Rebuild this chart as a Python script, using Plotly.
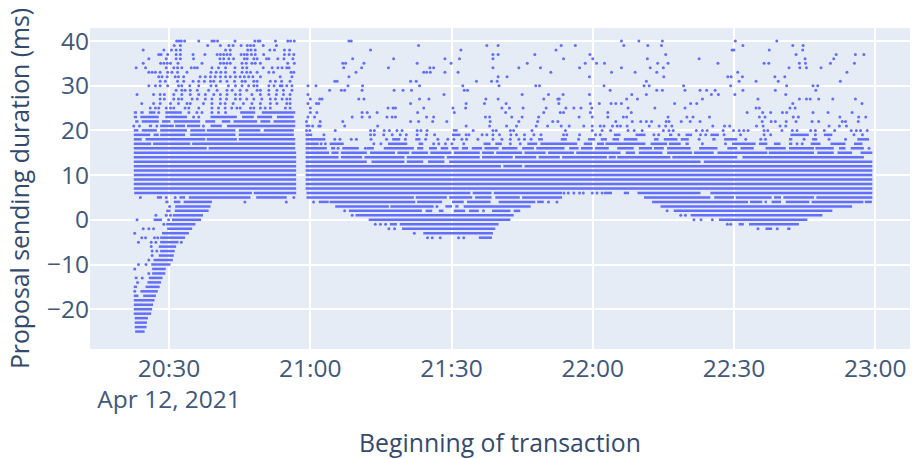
import pandas as pd
import plotly.graph_objects as go

# Minutes after 20:00 on 2021-04-12.
START = pd.Timestamp("2021-04-12 20:00:00")

# Duration (ms) -> runs of transactions so dense that they merge into a bar: (first, last) minute
LEFT_RUNS = {
    24: [(22.5,23.2),(23.9,24.6),(25.7,27.1),(29.2,32.7),(45.1,48.3),(49.7,56.8)],
    23: [(22.5,23.2),(23.9,27.8),(29.2,33.8),(38.8,44.4),(45.5,48),(48.7,51.9),(52.9,56.5)],
    22: [(22.8,23.5),(24.2,27.8),(28.5,30.3),(31,36.6),(37.7,39.8),(41.2,43),(43.7,48.7),(49.4,51.5),(52.2,56.8)],
    21: [(25.7,26.4),(28.1,31),(31.3,33.4),(33.8,36.6),(38.8,41.2),(42.3,56.8)],
    20: [(22.5,23.5),(24.2,27.4),(28.1,33.8),(34.5,37.7),(38,44.1),(44.8,49.4),(50.1,56.5)],
    19: [(22.5,26),(26.7,27.8),(28.1,33.4),(34.5,44.1),(44.8,56.5)],
    18: [(22.5,24.2),(25,37.7),(38,44.4),(44.8,56.8)],
    17: [(22.5,26.2),(26.6,34.5),(34.9,56.8)],
    16: [(22.5,38),(38.4,56.8)],
    15: [(22.5,57)], 14: [(22.5,57)], 13: [(22.5,57)], 12: [(22.5,57)], 11: [(22.5,57)],
    10: [(22.5,57)], 9: [(22.5,57)], 8: [(22.5,57)], 7: [(22.5,57)],
    6: [(22.6,47.6),(48,57)],
    5: [(27.4,28.5),(32.2,33.4),(34.2,47.3),(48.5,55)],
    4: [(29.2,29.9),(31,32.4),(33.1,39.1)],
    3: [(31.3,38.8)],
    2: [(29.4,30.3),(31.2,38.4)],
    1: [(30.8,37.2)],
    0: [(26.7,28.5),(30.6,36.8)],
    -1: [(29.4,35.6)],
    -2: [(29.6,34.9)],
    -3: [(28.5,34.2)],
    -4: [(28.1,33.4)],
    -5: [(28.1,32)],
    -6: [(27.8,31.5)],
    -7: [(28.1,31.2)],
    -8: [(27.8,31)],
    -9: [(26.7,30.8)],
    -10: [(26.2,30.3)],
    -11: [(26.4,29.3)],
    -12: [(26.4,29.2)],
    -13: [(22.7,23.3),(25.7,28.6)],
    -14: [(25.4,28.3)],
    -15: [(22.5,23.2),(25,28)],
    -16: [(23.9,27.6)],
    -17: [(22.5,23.5),(24.5,27.2)],
    -18: [(22.5,26.9)],
    -19: [(22.5,26.6)],
    -20: [(22.5,26.4)],
    -21: [(22.5,26.2)],
    -22: [(22.7,25.5)],
    -23: [(22.7,25.3)],
    -24: [(22.7,25.2)],
    -25: [(22.8,24.8)],
}

RIGHT_RUNS = {
    21: [(59,60)],
    20: [(90.3,91.3)],
    19: [(59,60.4),(90.1,91.9),(124.5,125.9),(129.1,131.2),(136.2,136.9),(139.7,141.1),(145,146.8),(162,165.9),(169.1,170.9)],
    18: [(59,63.2),(77.4,79.1),(82.3,83.4),(108.4,109.4),(113.2,114.5),(119,120.5),(121.7,123),(124.2,125.6),(126.6,129.5),
         (133,134),(135.1,138),(138.7,140.4),(145.4,146.1),(147.9,150.7),(161.7,162.4),(166.6,167.7),(176.2,178.7)],
    17: [(59,61.8),(64.1,67.1),(76.5,80.6),(83,84),(96.8,98.3),(99.3,100.7),(106.1,108.2),(108.9,116.7),(118.1,119.9),(120.9,122.4),
         (122.7,131.2),(132.3,135.8),(136.2,138.7),(139.7,140.4),(149.6,154.6),(155.3,157.1),(158.5,159.9),(161.7,162.4),(166.3,168.4),(170.5,173.7),(175.5,177.3)],
    16: [(59,63.5),(64.4,65.3),(66.8,70.3),(72,73.5),(75.6,82),(82.7,84),(85.2,86.9),(87.7,89.3),(90,91.5),(92.2,93.5),(94.3,96.5),
         (97,100),(100.7,104),(105,107.5),(108,114),(115,117),(117.5,120),(120.5,123.4),(125.2,128.7),(129.8,132.6),(133,135.1),
         (135.8,140.8),(142.6,146.5),(148.6,150.7),(151.4,154.2),(156.7,161),(161.7,167),(167.3,171.2),(172.3,173.7),(174.8,177.6)],
    15: [(59,64),(64.5,66),(66.5,72),(72.7,78),(78.5,81),(81.5,85),(85.5,90),(90.5,96),(96.5,99),(99.5,105),(105.5,110),(110.5,116),
         (116.5,125.9),(127,129),(129.8,134.8),(135.8,141.1),(141.5,145.7),(146.5,157.1),(157.4,167),(167.7,171.2),(172,175.1),(176.9,179.4)],
    14: [(59,66),(66.5,71),(71.5,80),(80.5,88.5),(89,96),(96.5,103),(103.5,108),(108.5,113),(113.5,123),(123.4,124.9),(125.2,136.5),(136.9,150.7),(151.8,177.6)],
    13: [(59,72),(73,80),(80.5,84),(85,88.5),(89.5,142.9),(143.6,179.4)],
    12: [(59,100.5),(101,105),(105.5,179.4)],
    11: [(59,179.4)], 10: [(59,179.4)], 9: [(59,179.4)], 8: [(59,179.4)], 7: [(59,179.4)],
    6: [(59.2,94),(94.5,98.5),(99,113.5),(122.4,124.1),(126.6,127.7),(129.5,142.9),(145,179.4)],
    5: [(59.2,82),(82.4,89),(89.5,94.4),(95,98.5),(99.3,104.5),(105,113.5),(130.9,145),(145.8,150),(150.4,158),(158.5,160),(160.5,167),(167.5,179.4)],
    4: [(61.8,63.9),(64.1,82.3),(82.7,88),(90.1,92.6),(93.3,98.3),(100,107.8),(108.2,109.6),(132.6,153),(153.4,156),(156.5,157),(158,160),(161,166),(166.5,177.5),(177.8,179.3)],
    3: [(65.3,76.7),(77,86.2),(88.7,90.1),(90.8,91.5),(92.6,106.8),(134.4,175.1)],
    2: [(68.2,83.7),(84.5,85.9),(87.3,88.3),(90.5,92.9),(93.7,95.8),(98.6,102.5),(103.2,104.6),(137.2,170.9)],
    1: [(69.6,103.2),(140.8,168.8)],
    0: [(72.4,102.5),(146.8,165.6)],
    -1: [(76.9,78.4),(79,100),(151,152.1),(153.2,163.8)],
    -2: [(79.5,99.3),(156.7,158.1),(161.3,162)],
    -3: [(84,98.8)],
    -4: [(95.8,98.6)],
}

# Duration (ms) -> individually visible transactions (minute)
LEFT_POINTS = {
    40: [31.6,32.1,32.6,33.3,36.3,39.1,39.6,40.3,44,48.2,48.9,49.3,52.6,55.2,55.8,56.6],
    39: [31.1,32.4,38.2,40.9,42.7,43.6,45.3,46.6,47.3,48,50,52.8],
    38: [24.5,28.9,30.5,31.5,32.4,42,43,46.7,47.4,48.3,51.4,52.4,54.5,55.6],
    37: [27.8,28.3,29.7,31.5,32.4,35.1,37.6,40.2,40.9,41.6,42.3,43,45.3,46,46.6,47.5,48.3,50.1,54.5,55.5,56.5],
    36: [25.7,29.4,31.5,32.4,35.2,40.8,41.6,42.7,43.7,46,46.6,48,48.7,50.7,51.2,53.1,54.4,56.3],
    35: [24.5,28.2,28.9,29.6,30.3,31.9,37,40.9,41.6,42.3,43,45.5,46.4,47.6,48.3,49.4,55.2,56.6],
    34: [23,25,29.4,31,31.8,32.7,34.7,35.4,36,39.1,40.5,42,44,45.6,46.5,50,51.9,53.1,54,55,55.5],
    33: [25.7,26.4,27.1,28.1,29.7,30.6,31.8,33.8,38.9,40,41,42,43.9,45.5,46.5,47.3,48.7,51.2,52.2,55.9,56.5],
    32: [27.8,28.5,29.6,31.3,32,33.1,36.6,37.7,38.8,39.8,40.9,42,43,44.1,45.1,46,46.9,47.8,49.4,53.6,56.1],
    31: [28.1,29.2,31.8,33.1,35.1,36.3,37.5,38.8,39.5,40.9,42.3,43.9,45.5,46.2,48,48.7,51.5,52.6,53.9,55.7],
    30: [25.7,27.1,28.1,29.7,32,32.7,34.4,36.3,38.9,40,42.6,44.1,45.5,46.9,48,48.7,51.2,52.3,53.6,54,55,56.1],
    29: [31.5,32.7,33.4,34.5,36,38.4,40.2,42.3,43.4,45.1,46.5,48.7,49.4,51.2,52.9,54.3,56.1],
    28: [23.2,26.7,28.1,29,31,32.7,34.5,36.3,37.7,39.5,40.9,42.3,44.1,45.1,47.6,49.4,51.2,52.8,54.3,55.7],
    27: [28.1,29,31,32,32.7,34.9,36,37.7,39.1,40.9,42.2,44.1,45.1,46.5,48,49.7,51.5,52.6,54,55,55.7],
    26: [24.2,26.7,28.1,30.3,32,33.8,34.5,37.3,39.1,40.9,41.9,43.6,45.8,47.6,49.4,51.5,52.9,55,55.7],
    25: [26,27.1,27.8,29.4,30.3,31,33.4,34.2,36.3,39.1,40.5,41.9,43.3,44.4,45.1,47.3,48,49.4,50.4,51.5,54.7,55.7],
    24: [27.8,34.2,35.9,37,39.1,40.5,42],
    23: [35.2,36.3],
    21: [22.5,23.7,27.4,37.3],
    5: [23.9,29.4,31.3,56.5],
    4: [46.1,54.9],
    3: [30.1],
    1: [27.2,29.4,30.3],
    0: [23.2,29.9],
    -1: [28.9],
    -2: [24.5,25.7,26.7],
    -3: [22.7],
    -4: [24.2,25,26.9,27.6],
    -5: [23.5,26.2,27.2,32.6],
    -6: [26.2],
    -7: [26.4,27.4],
    -8: [26.4],
    -9: [25.7],
    -10: [23.5,25.1],
    -11: [22.7],
    -12: [25.7],
    -13: [24.3],
    -14: [23.3],
    -16: [22.7],
}

RIGHT_POINTS = {
    40: [68.2,68.7,126.1,129.8,134.8,150.3,159.1],
    39: [83,97.5,99.9,113.3,116.3,126.6,131.7,134.6,151.9,162.5,164.7],
    38: [72.8,92,112.2,149.6,150,157.5,164.6],
    37: [98.8,99.9,107.7,119.4,135.5,163.2,171.7,175.8,177.6],
    36: [69,77.7,88.6,91.7,98.8,113.8,120,131.6,142.6,165.1,171.2],
    35: [66.9,67.5,71.4,82.7,89.9,106.1,118.4,120.8,122.5,133.8,136,146.6,156.4,157.4,163.9,165.2,170.5,175.6],
    34: [67.1,70.9,76.6,85.4,86.2,98.8,104.3,108.9,117.2,126.1,132.2,135,161.7,164,165.4,168.5],
    33: [69.7,84.1,84.7,85.5,88.6,91.4,111.1,124,129,133.6,150.8,174],
    32: [68.2,99.9,101.8,119.3,135.1,148.7,149.4,151.8,158.7,160.8],
    31: [65.2,65.7,81.3,82.5,95.3,98.5,99.7,131.4,151.1,154.7,159.4,172.6],
    30: [59.5,61.2,68,71.1,83.2,92.4,100.1,107.9,108.7,122.4,130.9,132,139.3,149.3,161.2,166.8,167.8],
    29: [64.1,66.6,67.3,71,77.8,79.7,81.5,92.7,93.4,123.7,133.6,134.8,139.6,142.8,144.2,146,151.9,158.8,167.4],
    28: [59.5,88.4,105,110.6,113.7,119.3,128.3,131.4,145.2,146.7,150.2,161],
    27: [60,62,62.5,70.3,71.4,83.2,85.2,97.3,99.9,109.6,112.6,112.9,127.2,129.5,143.3,155.1,163.9,165.4,166.2,168,171,175.8],
    26: [59.5,61.3,61.8,81.3,93.1,97,101.6,112.8,119.5,121.4,123.9,124.9,126.1,137.4,140.8,142.1,162.5,177.2],
    25: [60,76.5,77.6,78.1,84.1,90.3,93,100.7,102.3,105.2,110.1,114.3,116,117.5,119.8,127.5,133.2,139.6,154.7,155.4,161.9,163],
    24: [60,61.4,71,72.1,74.2,82.8,90.6,101.5,109.6,113.1,113.8,119.5,123.2,128.2,152.8,156.1,157.8,160.3,161.2,166.8,170,175.1],
    23: [59.5,60.9,68.9,71,72.6,76.3,77.4,78.1,84.7,86.2,97.2,98.1,102.8,105,108.5,117.1,119.9,123.2,126.5,127.2,136,140,141.3,144.8,155.4,156.6,162.6,163.7,172.5,176.5,178],
    22: [59.2,62.1,66.9,81.3,83,86,89,98.2,104.3,108.3,111.5,112.6,124.9,128.4,130.2,131.4,132.5,135.6,136.2,138.8,140.7,142.8,156,157.9,158.8,161.1,163.2,166.6,168,173,173.7,176.4],
    21: [60.5,61.8,62.1,67.3,74.3,93.1,98.1,101.7,103.8,108,110.4,113.3,115,118.1,119.9,121.6,122.4,124.2,125.2,125.9,127.3,132,134.1,135.5,136.8,145.5,148,149.1,154.8,156.2,159.8,161,170.2,172.4,173.9],
    20: [59.2,59.9,65.3,72.8,73.6,75.7,76.8,78.4,79.5,82.7,83.5,84.8,94.6,98.8,99.5,102.5,103.2,107.1,114.2,119.9,122,123.8,127.5,128.8,130.5,135,136.2,137.1,142,143.3,144.3,147.7,149.9,151.1,152.1,153,156.4,157.2,160.2,162.4,163.4,166.3,167.3,169.2,171.4,174.9,176,176.9,178.3],
    19: [62.9,72.8,73.6,75.6,77.4,79.1,80.4,82.7,84.7,86.4,93.1,93.7,96.5,97.5,98.8,100.2,102.6,103.8,105.5,107.5,109,113.8,114.5,117.2,120.6,121.6,133,134,138.3,142.9,144,147.9,151.4,156.4,157.8,167.3,175.5,177.3],
    18: [65.2,66.3,68.7,69.8,72.9,76.2,80.2,84.5,87.1,89.2,90.5,92.2,93.2,95.6,98.8,100.7,102.5,104.3,105.5,106.9,117,152.5,155.7,156.7,164.9,170.2,173.7,142.6],
    17: [62.3,63.2,73.5,75,86.2,87.3,88.7,90.1,92.6,102.5,104.6,143.3,148.2,163.4,164.5],
    16: [65.9,71.7,178.7],
    6: [113.9,114.8,116,117.2,118,119.9,120.9,122],
    4: [60.7,110.6,112.4],
    3: [86.9],
    2: [67.3,96.8,135.8],
    1: [68.9,138.7,139.7],
    0: [141.5,143,145.4],
    -1: [73.8,74.9,76,148.6,149.3],
    -2: [76.7,77.9,155.1,159.2],
    -3: [82.1],
    -4: [84.9,85.9,87.6,91.5,92.6],
}

MARK = "#636efa"
TICK_TEXT = "#42587a"
TITLE_TEXT = "#354a6b"


def stamp(m):
    return START + pd.to_timedelta(m, unit="min")


xs_r, ys_r = [], []
for table in (LEFT_RUNS, RIGHT_RUNS):
    for ms, runs in table.items():
        for a, b in runs:
            xs_r += [stamp(a), stamp(b), None]
            ys_r += [ms, ms, None]

xs_p, ys_p = [], []
for table in (LEFT_POINTS, RIGHT_POINTS):
    for ms, minutes in table.items():
        for m in minutes:
            xs_p.append(stamp(m))
            ys_p.append(ms)

fig = go.Figure()
fig.add_trace(go.Scatter(x=xs_r, y=ys_r, mode="lines", line=dict(color=MARK, width=2.5), connectgaps=False, hoverinfo="skip"))
fig.add_trace(go.Scatter(x=xs_p, y=ys_p, mode="markers", marker=dict(color=MARK, size=3)))
fig.update_layout(
    template="plotly",
    width=913, height=459,
    showlegend=False,
    margin=dict(l=90, r=3, t=28, b=110),
    font=dict(family="Open Sans, sans-serif", color=TICK_TEXT),
)
fig.update_xaxes(
    title=dict(text="Beginning of transaction", font=dict(size=24.8, color=TITLE_TEXT), standoff=25),
    tickfont=dict(size=24.5, color=TICK_TEXT),
    range=[stamp(13.2), stamp(187.4)],
    dtick=30 * 60000,
    tickformat="%H:%M\n%b %d, %Y",
    ticks="", ticklabelstandoff=2,
    gridwidth=1.6,
    automargin=False,
)
fig.update_yaxes(
    title=dict(text="Proposal sending duration (ms)", font=dict(size=24.8, color=TITLE_TEXT), standoff=10),
    tickfont=dict(size=24.5, color=TICK_TEXT),
    range=[-28.9, 42.9],
    dtick=10,
    gridwidth=1.6,
    zerolinewidth=1.6,
    automargin=False,
)
fig.write_html("out.html", config={"displayModeBar": False}, post_script="document.body.style.margin='0';window.dispatchEvent(new Event('resize'));")
